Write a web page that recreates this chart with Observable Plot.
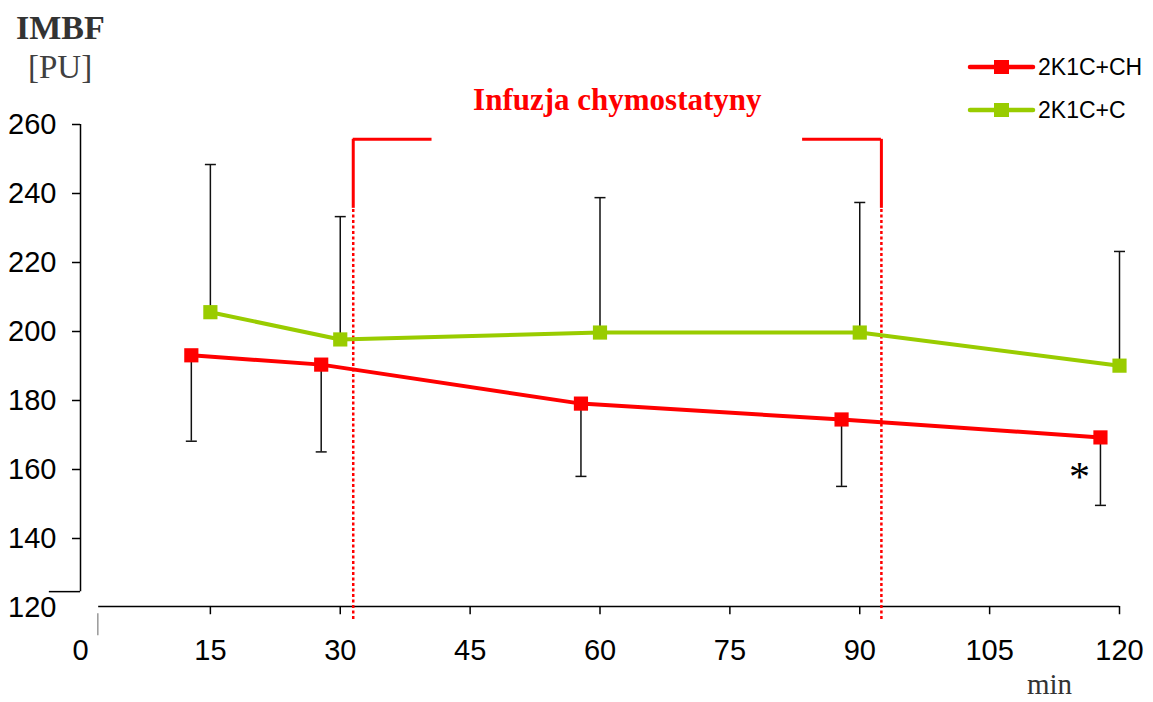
<!DOCTYPE html>
<html>
<head>
<meta charset="utf-8">
<script src="https://cdn.jsdelivr.net/npm/d3@7"></script>
<script src="https://cdn.jsdelivr.net/npm/@observablehq/plot@0.6"></script>
<style>
  html, body { margin: 0; padding: 0; background: #fff; }
  #wrap { position: relative; width: 1153px; height: 702px; }
  #overlay { position: absolute; left: 0; top: 0; pointer-events: none; }
</style>
</head>
<body>
<div id="wrap"></div>
<script>
// IMBF (perfusion units) over time, two groups, mean with one-sided SD bars
const xTicks = [0, 15, 30, 45, 60, 75, 90, 105, 120];
const yTicks = [120, 140, 160, 180, 200, 220, 240, 260];

// 2K1C+CH (chymostatin) – plotted slightly left of the nominal times
const chTime  = [12.8, 27.8, 57.8, 87.9, 117.8];
const chMean  = [193.1, 190.4, 179.1, 174.5, 169.3];
const chLower = [168.2, 165.1, 158.0, 155.1, 149.6];

// 2K1C+C (control)
const cTime  = [15, 30, 60, 90, 120];
const cMean  = [205.6, 197.7, 199.7, 199.7, 190.1];
const cUpper = [248.4, 233.3, 238.8, 237.4, 223.2];

// infusion window (min)
const infusion = [31.5, 92.5];
const infusionLabel = "Infuzja chymostatyny";

const seriesNames  = ["2K1C+CH", "2K1C+C"];
const seriesColors = ["#ff0000", "#99cc00"];

const ch = chTime.map((t, i) => ({t, mean: chMean[i], bound: chLower[i]}));
const c  = cTime.map((t, i) => ({t, mean: cMean[i], bound: cUpper[i]}));

// horizontal cap for error bars, fixed pixel width
const capSymbol = {
  draw(ctx) { ctx.moveTo(-5.5, 0); ctx.lineTo(5.5, 0); }
};

const sans = "'Liberation Sans', Arial, sans-serif";
const serif = "'Liberation Serif', 'Times New Roman', serif";

const bracketTop = 255.7, bracketSolidEnd = 235.7, bracketDottedEnd = 116.5;
const bracketArm = 9.1;

const chart = Plot.plot({
  width: 1153,
  height: 702,
  marginLeft: 80,
  marginRight: 34,
  marginTop: 124,
  marginBottom: 95,
  x: {domain: [0, 120]},
  y: {domain: [120, 260]},
  style: {fontFamily: sans, fontSize: "29px", color: "#000", background: "transparent"},
  marks: [
    // y axis line with its short foot to the left
    Plot.ruleX([0], {y1: 124.6, y2: 260, stroke: "#000", strokeWidth: 1.5}),
    Plot.ruleY([124.6], {x1: -3.6, x2: 0, stroke: "#000", strokeWidth: 1.5}),
    Plot.axisY({ticks: yTicks.slice(1), tickSize: 8, tickPadding: 16, label: null, stroke: "#000", strokeWidth: 1.5, strokeOpacity: 1}),
    Plot.axisY({ticks: yTicks.slice(0, 1), tickSize: 0, tickPadding: 24, label: null}),
    // x axis line, ticks and labels
    Plot.ruleY([120.3], {x1: 2.1, x2: 120, stroke: "#000", strokeWidth: 1.5}),
    Plot.ruleX(xTicks.slice(1), {y1: 120.3, y2: 117.9, stroke: "#000", strokeWidth: 1.5}),
    Plot.ruleX([2.0], {y1: 118.2, y2: 111.8, stroke: "#999", strokeWidth: 1.5}),
    Plot.axisX({ticks: xTicks, tickSize: 0, tickPadding: 32, label: null}),

    // infusion bracket: solid top part, dotted down to the axis
    Plot.ruleX(infusion, {y1: bracketSolidEnd, y2: bracketTop, stroke: "#ff0000", strokeWidth: 3}),
    Plot.ruleX(infusion, {y1: bracketDottedEnd, y2: bracketSolidEnd, stroke: "#ff0000", strokeWidth: 2.5, strokeDasharray: "3,2.5"}),
    Plot.ruleY([infusion[0]], {x1: d => d, x2: d => d + bracketArm, y: () => bracketTop, stroke: "#ff0000", strokeWidth: 3}),
    Plot.ruleY([infusion[1]], {x1: d => d - bracketArm, x2: d => d, y: () => bracketTop, stroke: "#ff0000", strokeWidth: 3}),
    Plot.text([infusionLabel], {
      x: () => (infusion[0] + infusion[1]) / 2, y: () => 267, text: d => d,
      fill: "#ff0000", fontFamily: serif, fontWeight: "bold", fontSize: 31
    }),

    // error bars
    Plot.ruleX(c, {x: "t", y1: "mean", y2: "bound", stroke: "#111", strokeWidth: 1.5}),
    Plot.dot(c, {x: "t", y: "bound", symbol: capSymbol, stroke: "#111", strokeWidth: 1.5, fill: "none"}),
    Plot.ruleX(ch, {x: "t", y1: "mean", y2: "bound", stroke: "#111", strokeWidth: 1.5}),
    Plot.dot(ch, {x: "t", y: "bound", symbol: capSymbol, stroke: "#111", strokeWidth: 1.5, fill: "none"}),

    // series lines and square markers
    Plot.line(c, {x: "t", y: "mean", stroke: seriesColors[1], strokeWidth: 4}),
    Plot.dot(c, {x: "t", y: "mean", symbol: "square", r: 8, fill: seriesColors[1], stroke: "none"}),
    Plot.line(ch, {x: "t", y: "mean", stroke: seriesColors[0], strokeWidth: 4}),
    Plot.dot(ch, {x: "t", y: "mean", symbol: "square", r: 8, fill: seriesColors[0], stroke: "none"}),

    // significance mark at the last CH point
    Plot.text([ch[ch.length - 1]], {
      x: "t", y: "mean", text: () => "*", dx: -21, dy: 40,
      fontFamily: serif, fontSize: 42, fill: "#000"
    })
  ]
});

const wrap = document.getElementById("wrap");
wrap.appendChild(chart);

// titles, unit label, x label and legend drawn on top
const overlay = d3.select(wrap).append("svg")
  .attr("id", "overlay").attr("width", 1153).attr("height", 702);

overlay.append("text").attr("x", 16).attr("y", 39)
  .attr("font-family", serif).attr("font-weight", "bold").attr("font-size", 34)
  .attr("fill", "#333").text("IMBF");
overlay.append("text").attr("x", 28).attr("y", 78)
  .attr("font-family", serif).attr("font-size", 33)
  .attr("fill", "#404040").text("[PU]");
overlay.append("text").attr("x", 1027).attr("y", 694)
  .attr("font-family", serif).attr("font-size", 29)
  .attr("fill", "#333").text("min");

const legend = overlay.append("g").selectAll("g")
  .data(seriesNames)
  .join("g")
  .attr("transform", (d, i) => `translate(0, ${67 + i * 43})`);
legend.append("line")
  .attr("x1", 970).attr("x2", 1033).attr("y1", 0).attr("y2", 0)
  .attr("stroke", (d, i) => seriesColors[i]).attr("stroke-width", 4.5)
  .attr("stroke-linecap", "round");
legend.append("rect")
  .attr("x", 994).attr("y", -7).attr("width", 15).attr("height", 14)
  .attr("fill", (d, i) => seriesColors[i]);
legend.append("text")
  .attr("x", 1038).attr("y", 0).attr("dy", "0.36em")
  .attr("font-family", sans).attr("font-size", 23)
  .attr("fill", "#000").text(d => d);
</script>
</body>
</html>
